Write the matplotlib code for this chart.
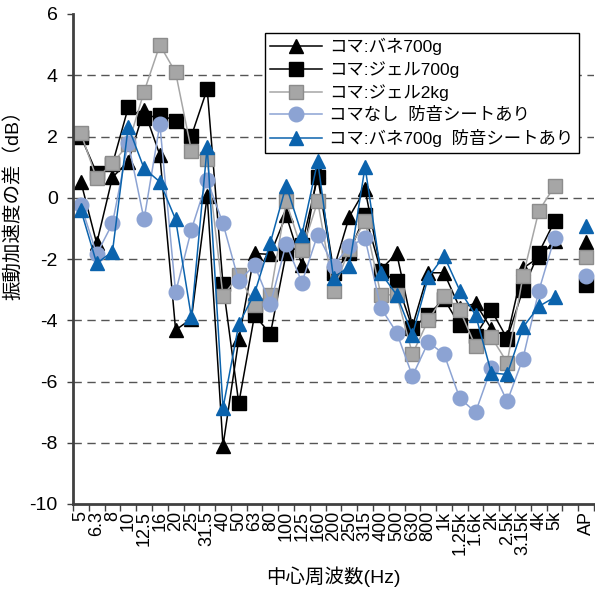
import numpy as np
import matplotlib
matplotlib.use('Agg')
import matplotlib.pyplot as plt

plt.rcParams['font.family'] = ['Liberation Sans', 'Noto Sans CJK JP']
plt.rcParams['axes.unicode_minus'] = False

# center frequencies (blank slot before AP)
freq_labels = ['5', '6.3', '8', '10', '12.5', '16', '20', '25', '31.5', '40',
               '50', '63', '80', '100', '125', '160', '200', '250', '315', '400',
               '500', '630', '800', '1k', '1.25k', '1.6k', '2k', '2.5k', '3.15k', '4k',
               '5k', '', 'AP']

nan = np.nan
koma_bane700 = [0.52, -1.49, 0.67, 1.18, 2.87, 1.40, -4.32, -3.95, 0.07, -8.10,
                -4.62, -1.82, -1.85, -0.57, -2.20, 0.88, -2.35, -0.62, 0.27, -2.35,
                -1.81, -4.20, -2.45, -2.45, -3.60, -3.45, -4.28, -4.55, -2.30, -1.95,
                -1.42, nan, -1.43]
koma_gel700 = [2.00, 0.80, 1.10, 2.95, 2.60, 2.70, 2.52, 2.02, 3.55, -2.83,
               -6.71, -3.83, -4.45, -1.82, -1.55, 0.68, -2.46, -1.80, -0.55, -2.40,
               -2.73, -4.26, -3.83, -3.30, -4.17, -4.50, -3.67, -4.60, -3.00, -1.80,
               -0.77, nan, -2.84]
koma_gel2kg = [2.10, 0.63, 1.12, 1.75, 3.46, 4.99, 4.09, 1.54, 1.25, -3.21,
               -2.53, -3.50, -3.18, -0.12, -1.72, -0.12, -3.03, -1.67, -0.75, -3.17,
               -3.17, -5.10, -4.00, -3.20, -3.67, -4.85, -4.55, -5.38, -2.57, -0.44,
               0.38, nan, -1.93]
no_koma_sheet = [-0.24, -1.84, -0.84, 1.80, -0.71, 2.40, -3.09, -1.04, 0.58, -0.84,
                 -2.72, -2.20, -3.48, -1.50, -2.77, -1.20, -2.22, -1.57, -1.33, -3.60,
                 -4.40, -5.82, -4.72, -5.10, -6.55, -7.00, -5.55, -6.65, -5.25, -3.05,
                 -1.31, nan, -2.55]
koma_bane700_sheet = [-0.40, -2.14, -1.76, 2.32, 0.96, 0.52, -0.71, -3.91, 1.67, -6.87,
                      -4.13, -3.12, -1.47, 0.40, -1.20, 1.20, -2.62, -2.24, 1.01, -2.46,
                      -3.17, -4.48, -2.60, -1.90, -3.03, -3.83, -5.72, -5.77, -4.23, -3.55,
                      -3.25, nan, -0.93]

series = [
    ('コマ:バネ700g', koma_bane700, dict(color='black', marker='^', ms=10.5,
                                         mfc='black', mec='black')),
    ('コマ:ジェル700g', koma_gel700, dict(color='black', marker='s', ms=10,
                                          mfc='black', mec='black')),
    ('コマ:ジェル2kg', koma_gel2kg, dict(color='#a6a6a6', marker='s', ms=10,
                                         mfc='#a6a6a6', mec='#8c8c8c')),
    ('コマなし  防音シートあり', no_koma_sheet, dict(color='#8ca3d3', marker='o', ms=10.5,
                                                 mfc='#8ca3d3', mec='#8ca3d3')),
    ('コマ:バネ700g  防音シートあり', koma_bane700_sheet, dict(color='#0b63ad', marker='^', ms=10.5,
                                                      mfc='#0b63ad', mec='#0b63ad')),
]

fig = plt.figure(figsize=(5.95, 5.91), dpi=100)
ax = fig.add_axes([73 / 595, 87 / 591, 521 / 595, 490 / 591])

x = np.arange(len(freq_labels))
for label, vals, style in series:
    ax.plot(x, vals, label=label, lw=1.1, **style)

ax.set_xlim(-0.5, len(freq_labels) - 0.5)
ax.set_ylim(-10, 6)
ax.set_yticks(np.arange(-10, 7, 2))
for v in range(-8, 6, 2):
    ax.axhline(v, color='#555555', lw=1.0, ls=(0, (6, 4)), zorder=0)

# category axis: ticks between slots, labels centered
ax.set_xticks(np.arange(-0.5, len(freq_labels)), minor=False)
ax.set_xticklabels([])
ax.set_xticks(x, minor=True)
ax.set_xticklabels(freq_labels, minor=True, rotation=90, fontsize=13)
ax.tick_params(axis='x', which='minor', length=0, pad=5)
ax.tick_params(axis='x', which='major', length=5, width=1, color='#404040', direction='out')
ax.tick_params(axis='y', length=4, width=1, color='#404040', labelsize=14, pad=7)

for side in ['top', 'right']:
    ax.spines[side].set_visible(False)
for side in ['left', 'bottom']:
    ax.spines[side].set_color('#404040')
    ax.spines[side].set_linewidth(2)

ax.set_xlabel('中心周波数(Hz)', fontsize=14, labelpad=8)
ax.set_ylabel('振動加速度の差（dB）', fontsize=14)
ax.yaxis.set_label_coords(-0.098, 0.62)

leg = ax.legend(loc='upper left', bbox_to_anchor=(265 / 595, 1 - 33 / 591),
                bbox_transform=fig.transFigure, borderaxespad=0, fontsize=12.5,
                frameon=True, fancybox=False, edgecolor='black', framealpha=1,
                handlelength=3.0, labelspacing=0.35, borderpad=0.3, handletextpad=0.4)
leg.get_frame().set_linewidth(1.0)

fig.savefig('out.png', dpi=100)
